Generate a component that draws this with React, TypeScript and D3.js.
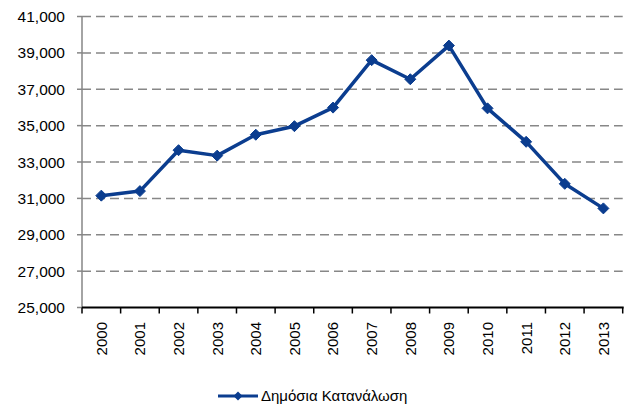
import React from "react";
import * as d3 from "d3";

const years = ["2000","2001","2002","2003","2004","2005","2006","2007","2008","2009","2010","2011","2012","2013"];
const values = [31150, 31400, 33650, 33350, 34500, 34970, 35990, 38600, 37550, 39400, 35950, 34110, 31800, 30450];
const yTicks = [25000, 27000, 29000, 31000, 33000, 35000, 37000, 39000, 41000];
const seriesName = "Δημόσια Κατανάλωση";

const W = 625, H = 409;
const left = 82, right = 622.7, top = 16.5, bottom = 307.5;
const color = "#0b3d8f";
const font = "'Liberation Sans', Arial, sans-serif";

export default function App() {
  const x = d3.scaleBand<string>().domain(years).range([left, right]);
  const y = d3.scaleLinear().domain([25000, 41000]).range([bottom, top]);
  const line = d3.line<number>().x((_, i) => x(years[i])! + x.bandwidth() / 2).y(d => y(d));
  const fmt = d3.format(",");
  const diamond = (cx: number, cy: number, r: number) =>
    `M${cx},${cy - r}L${cx + r},${cy}L${cx},${cy + r}L${cx - r},${cy}Z`;

  return (
    <svg width={W} height={H} style={{ position: "absolute", left: 0, top: 0, background: "#fff" }}>
      {yTicks.map(t => (
        <g key={t}>
          {t !== 25000 && (
            <line x1={left} x2={right} y1={y(t)} y2={y(t)} stroke="#878787" strokeWidth={1.5} strokeDasharray="9,5" />
          )}
          <line x1={left - 5} x2={left} y1={y(t)} y2={y(t)} stroke="#868686" strokeWidth={1.5} />
          <text x={65} y={y(t)} dy="0.36em" textAnchor="end" fontFamily={font} fontSize={15.5} fill="#000">
            {fmt(t)}
          </text>
        </g>
      ))}
      <line x1={left} x2={left} y1={top} y2={bottom} stroke="#868686" strokeWidth={1.5} />
      <line x1={left} x2={right + 1} y1={bottom} y2={bottom} stroke="#000" strokeWidth={2} />
      {[...years.map(yr => x(yr)!), right].map((tx, i) => (
        <line key={i} x1={tx} x2={tx} y1={bottom} y2={bottom + 6} stroke="#000" strokeWidth={1.5} />
      ))}
      {years.map(yr => {
        const cx = x(yr)! + x.bandwidth() / 2;
        return (
          <text key={yr} transform={`translate(${cx},${322}) rotate(-90)`} dy="0.36em" textAnchor="end"
            fontFamily={font} fontSize={15} fill="#000">
            {yr}
          </text>
        );
      })}
      <path d={line(values) ?? ""} fill="none" stroke={color} strokeWidth={3.5} strokeLinejoin="round" />
      {values.map((v, i) => (
        <path key={i} d={diamond(x(years[i])! + x.bandwidth() / 2, y(v), 5.5)} fill={color} stroke={color} strokeWidth={1} />
      ))}
      <line x1={218} x2={258} y1={396} y2={396} stroke={color} strokeWidth={3} />
      <path d={diamond(238, 396, 4.5)} fill={color} />
      <text x={261} y={396} dy="0.36em" fontFamily={font} fontSize={15} fill="#000">{seriesName}</text>
    </svg>
  );
}
